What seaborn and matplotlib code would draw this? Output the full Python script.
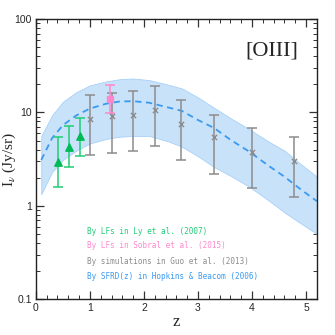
import numpy as np
import pandas as pd
import matplotlib
matplotlib.use("Agg")
import matplotlib.pyplot as plt
import seaborn as sns
from matplotlib.ticker import MultipleLocator, LogLocator, NullFormatter, FixedLocator, FixedFormatter

sns.set_style("ticks")
plt.rcParams['font.family'] = ['Liberation Sans', 'DejaVu Sans']
plt.rcParams['mathtext.fontset'] = 'stix'

# ===================== data =====================
# band from SFRD(z) (Hopkins & Beacom 2006)
z_band = [0.1, 0.3, 0.5, 0.75, 1.0, 1.3, 1.55, 1.8, 2.1, 2.45, 2.7, 3.0, 3.3, 3.6, 3.95, 4.3, 4.6, 4.9, 5.2]
band_upper = [5.6, 9.3, 13.0, 16.5, 19.5, 21.5, 22.7, 23.1, 22.2, 19.8, 18.1, 14.5, 11.2, 8.7, 6.6, 4.9, 3.9, 2.8, 2.05]
band_mid = [3.1, 5.3, 7.3, 9.3, 11.0, 12.4, 13.1, 13.2, 12.7, 11.3, 10.4, 8.3, 6.8, 5.1, 3.8, 2.7, 2.05, 1.5, 1.12]
band_lower = [1.33, 2.3, 3.1, 3.9, 4.66, 5.2, 5.5, 5.6, 5.6, 4.9, 4.3, 3.4, 2.6, 2.1, 1.6, 1.15, 0.85, 0.65, 0.5]

# LFs in Ly et al. (2007)
z_ly = [0.41, 0.61, 0.82]
I_ly = [2.95, 4.3, 5.6]
lo_ly = [1.6, 2.6, 3.4]
hi_ly = [5.5, 7.2, 8.8]

# LFs in Sobral et al. (2015)
z_sob = [1.37]
I_sob = [14.0]
lo_sob = [9.8]
hi_sob = [19.9]

# simulations in Guo et al. (2013)
z_guo = [1.0, 1.4, 1.8, 2.2, 2.69, 3.3, 3.99, 4.78]
I_guo = [8.6, 9.1, 9.5, 10.7, 7.6, 5.4, 3.8, 3.0]
lo_guo = [3.5, 3.7, 3.9, 4.4, 3.1, 2.2, 1.57, 1.23]
hi_guo = [15.3, 16.2, 16.9, 19.0, 13.6, 9.5, 6.8, 5.4]

legend_labels = ["By LFs in Ly et al. (2007)",
                 "By LFs in Sobral et al. (2015)",
                 "By simulations in Guo et al. (2013)",
                 "By SFRD(z) in Hopkins & Beacom (2006)"]

C_GREEN = '#22cc77'
C_GREEN_D = '#00bb55'
C_PINK = '#ff88cc'
C_GRAY = '#8c8c8c'
C_BLUE = '#3a9af0'
C_BAND = '#c8e2fa'

# ===================== figure =====================
fig = plt.figure(figsize=(3.35, 3.35), dpi=100)
ax = fig.add_axes([0.107, 0.107, 0.839, 0.836])

ax.fill_between(z_band, band_lower, band_upper, color=C_BAND, edgecolor='#a8d0f8',
                linewidth=0.6, zorder=1)
df_mid = pd.DataFrame({'z': z_band, 'I': band_mid})
sns.lineplot(data=df_mid, x='z', y='I', ax=ax, color=C_BLUE, lw=1.3,
             linestyle=(0, (3.5, 2.5)), zorder=2)


def add_points(zs, vals, lo, hi, bar_color, mk_color, marker, ms):
    vals = np.array(vals)
    yerr = [vals - np.array(lo), np.array(hi) - vals]
    ax.errorbar(zs, vals, yerr=yerr, fmt='none', ecolor=bar_color, elinewidth=1.1,
                capsize=3.5, capthick=1.1, zorder=3)
    df = pd.DataFrame({'z': zs, 'I': vals})
    sns.scatterplot(data=df, x='z', y='I', ax=ax, marker=marker, s=ms,
                    color=mk_color, edgecolor=mk_color, linewidth=1.0, zorder=4)


add_points(z_guo, I_guo, lo_guo, hi_guo, C_GRAY, C_GRAY, 'x', 14)
add_points(z_ly, I_ly, lo_ly, hi_ly, C_GREEN, C_GREEN_D, '^', 28)
add_points(z_sob, I_sob, lo_sob, hi_sob, C_PINK, C_PINK, 's', 24)

ax.set_yscale('log')
ax.set_xlim(0, 5.2)
ax.set_ylim(0.1, 100)

ax.xaxis.set_major_locator(MultipleLocator(1))
ax.xaxis.set_minor_locator(MultipleLocator(0.2))
ax.yaxis.set_major_locator(FixedLocator([0.1, 1, 10, 100]))
ax.yaxis.set_major_formatter(FixedFormatter(['0.1', '1', '10', '100']))
ax.yaxis.set_minor_locator(LogLocator(base=10, subs=np.arange(2, 10)))
ax.yaxis.set_minor_formatter(NullFormatter())

ax.tick_params(which='both', direction='in', top=True, right=True, labelsize=7.5,
               color='#333333', pad=3)
ax.tick_params(which='major', length=6, width=0.9)
ax.tick_params(which='minor', length=3, width=0.7)
for s in ax.spines.values():
    s.set_linewidth(1.0)
    s.set_color('#222222')

ax.set_xlabel('z', family='Liberation Serif', fontsize=12)
ax.set_ylabel(r'I$_\nu$ (Jy/sr)', family='Liberation Serif', fontsize=11)
ax.xaxis.set_label_coords(0.5, -0.082)
ax.yaxis.set_label_coords(-0.093, 0.5)
ax.xaxis.label.set_va('center')
ax.yaxis.label.set_va('center')

ax.text(0.84, 0.886, '[OIII]', transform=ax.transAxes, ha='center', va='center',
        family='Liberation Serif', fontsize=16)

leg_colors = [C_GREEN, C_PINK, C_GRAY, C_BLUE]
leg_y = [0.243, 0.190, 0.133, 0.080]
for lab, col, yy in zip(legend_labels, leg_colors, leg_y):
    ax.text(0.183, yy, lab, transform=ax.transAxes, ha='left', va='center',
            family='DejaVu Sans Mono', fontsize=5.5, color=col)

fig.savefig('out.png', dpi=100)
